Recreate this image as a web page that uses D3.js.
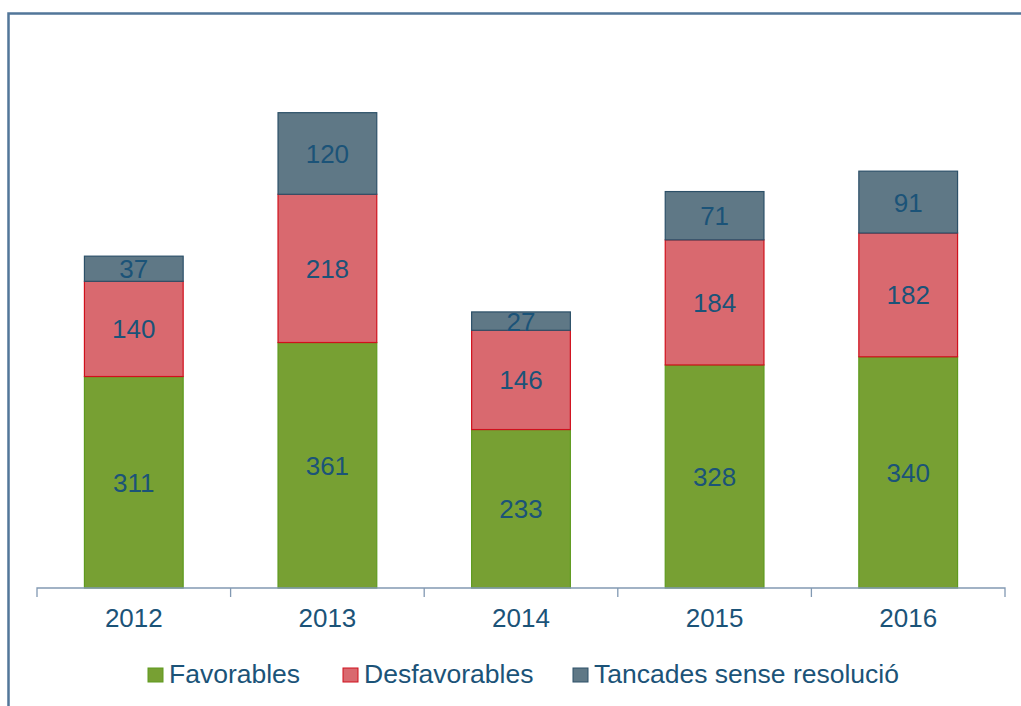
<!DOCTYPE html>
<html>
<head>
<meta charset="utf-8">
<script src="https://cdn.jsdelivr.net/npm/d3@7"></script>
<style>
    body { margin: 0; background: #fff; }
    text { font-family: "Liberation Sans", Arial, sans-serif; fill: #1b5378; }
</style>
</head>
<body>
<div id="chart"></div>
<script>
// Data
const years = ["2012", "2013", "2014", "2015", "2016"];
const favorables = [311, 361, 233, 328, 340];
const desfavorables = [140, 218, 146, 184, 182];
const tancades = [37, 120, 27, 71, 91];
const seriesNames = ["Favorables", "Desfavorables", "Tancades sense resolució"];

const fills = ["#77a033", "#d9696f", "#5f7886"];
const strokes = ["#5e9a1e", "#d0101c", "#2c5068"];

const W = 1021, H = 706;
const svg = d3.select("#chart").append("svg")
    .attr("width", W)
    .attr("height", H);

// Frame (top and left edges visible)
svg.append("path")
    .attr("d", "M8.5,706 V13.5 H1021")
    .attr("fill", "none")
    .attr("stroke", "#527699")
    .attr("stroke-width", 2.5);

const x = d3.scaleBand()
    .domain(years)
    .range([37, 1005])
    .paddingInner(0)
    .paddingOuter(0);

const y = d3.scaleLinear()
    .domain([0, 800])
    .range([588, 44]);

const rows = years.map((yr, i) => ({
    year: yr, Favorables: favorables[i], Desfavorables: desfavorables[i],
    "Tancades sense resolució": tancades[i]
}));
const stacked = d3.stack().keys(seriesNames)(rows);

const barW = x.bandwidth() * 0.51;

stacked.forEach((layer, k) => {
    const g = svg.append("g");
    g.selectAll("rect")
        .data(layer)
        .enter()
        .append("rect")
        .attr("x", d => x(d.data.year) + (x.bandwidth() - barW) / 2)
        .attr("y", d => y(d[1]))
        .attr("width", barW)
        .attr("height", d => y(d[0]) - y(d[1]))
        .attr("fill", fills[k])
        .attr("stroke", strokes[k])
        .attr("stroke-width", 1.2);

    g.selectAll("text")
        .data(layer)
        .enter()
        .append("text")
        .attr("x", d => x(d.data.year) + x.bandwidth() / 2)
        .attr("y", d => (y(d[0]) + y(d[1])) / 2 + 9.5)
        .attr("text-anchor", "middle")
        .style("font-size", "26px")
        .text(d => d[1] - d[0]);
});

// X axis
const axis = svg.append("g")
    .attr("transform", "translate(0,588)")
    .call(d3.axisBottom(x).tickSize(0).tickPadding(21));
axis.select(".domain")
    .attr("stroke", "#8299b3")
    .attr("stroke-width", 1.3)
    .attr("d", "M37,9V0H1005V9");
axis.selectAll(".tick text")
    .style("font-size", "26px")
    .style("font-family", "'Liberation Sans', Arial, sans-serif")
    .attr("fill", "#1b5378");

// separator ticks between categories
svg.append("g")
    .selectAll("line")
    .data(years.slice(1))
    .enter()
    .append("line")
    .attr("x1", d => x(d))
    .attr("x2", d => x(d))
    .attr("y1", 588)
    .attr("y2", 597)
    .attr("stroke", "#8299b3")
    .attr("stroke-width", 1.3);

// Legend
const legendX = [148, 343, 573];
const legend = svg.append("g");
seriesNames.forEach((name, k) => {
    legend.append("rect")
        .attr("x", legendX[k])
        .attr("y", 668)
        .attr("width", 15)
        .attr("height", 14)
        .attr("fill", fills[k])
        .attr("stroke", strokes[k])
        .attr("stroke-width", 1);
    legend.append("text")
        .attr("x", legendX[k] + 21)
        .attr("y", 683)
        .style("font-size", "26.5px")
        .text(name);
});
</script>
</body>
</html>
